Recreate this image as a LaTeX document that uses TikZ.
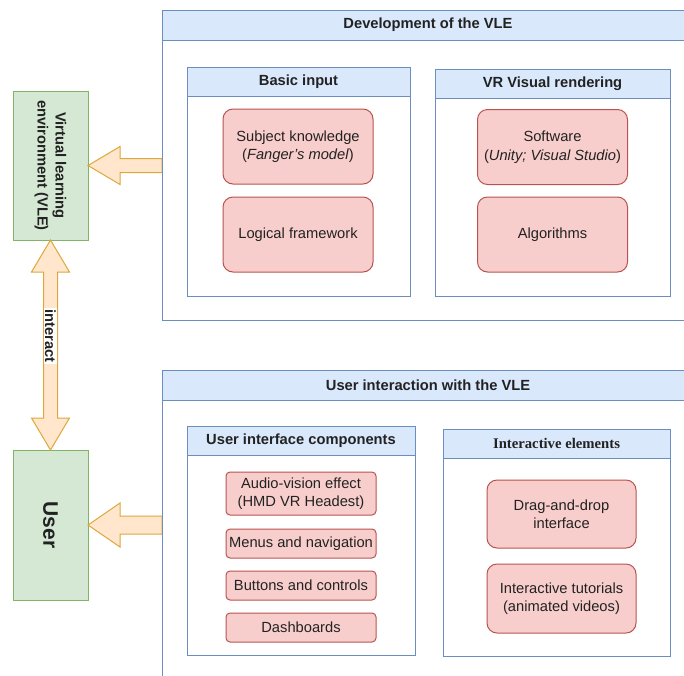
\documentclass[tikz,border=0pt]{standalone}
\usepackage{fontspec}
\setmainfont{Liberation Sans}
\newfontfamily\ieserif{Liberation Serif}
\usetikzlibrary{calc}
\definecolor{hdrfill}{HTML}{DAE8FC}
\definecolor{hdrline}{HTML}{6C8EBF}
\definecolor{redfill}{HTML}{F8CECC}
\definecolor{redline}{HTML}{B85450}
\definecolor{grnfill}{HTML}{D5E8D4}
\definecolor{grnline}{HTML}{82B366}
\definecolor{orgfill}{HTML}{FFE6CC}
\definecolor{orgline}{HTML}{DCA83C}
\definecolor{txt}{HTML}{222222}
\begin{document}
\begin{tikzpicture}[x=1pt,y=-1pt,
  every node/.style={inner sep=0pt, outer sep=0pt, text=txt, font=\fontsize{14.7}{18.5}\selectfont},
  region/.style={draw=hdrline, line width=1pt, fill=white, anchor=north west},
  header/.style={draw=hdrline, line width=1pt, fill=hdrfill, anchor=north west, font=\fontsize{14.7}{18}\selectfont\bfseries},
  item/.style={draw=redline, fill=redfill, line width=1pt, rounded corners=10pt, align=center, anchor=north west},
  smallitem/.style={item, rounded corners=4pt},
  actor/.style={draw=grnline, fill=grnfill, line width=1pt, anchor=north west},
  flex/.style={draw=orgline, fill=orgfill, line width=1pt, line join=miter},
  sidetext/.style={rotate=-90, align=center, font=\fontsize{14.7}{18}\selectfont\bfseries}
]
\useasboundingbox (0,0) rectangle (684,675);
\clip (0,0) rectangle (684,675);

% actors
\node[actor, minimum width=75, minimum height=149] (vle) at (13,91) {};
\node[sidetext] (vletext) at (vle.center) {Virtual learning\\environment (VLE)};
\node[actor, minimum width=75, minimum height=150] (user) at (13,450) {};
\node[sidetext, font=\fontsize{21}{24}\selectfont\bfseries] (usertext) at (user.center) {User};

% outer regions (bodies, for anchors)
\node[region, minimum width=532, minimum height=310] (devbody) at (162,10) {};
\node[region, minimum width=532, minimum height=330] (uibody) at (162,370) {};

% arrows
\draw[flex] let \p1=(devbody.west), \p2=(vle.east) in
  (\x1,\y2+7) -- (\x2+32,\y2+7) -- (\x2+32,\y2+19) -- (\x2,\y2) -- (\x2+32,\y2-19) -- (\x2+32,\y2-7) -- (\x1,\y2-7) -- cycle;
\draw[flex] let \p1=(uibody.west), \p2=(user.east) in
  (\x1,\y2+9) -- (\x2+32,\y2+9) -- (\x2+32,\y2+22) -- (\x2,\y2) -- (\x2+32,\y2-22) -- (\x2+32,\y2-9) -- (\x1,\y2-9) -- cycle;
\draw[flex] let \p1=(vle.south), \p2=(user.north) in
  (\x1,\y1) -- (\x1+19,\y1-32) -- (\x1+7,\y1-32) -- (\x1+7,\y2+32) -- (\x1+19,\y2+32) -- (\x1,\y2)
  -- (\x1-19,\y2+32) -- (\x1-7,\y2+32) -- (\x1-7,\y1-32) -- (\x1-19,\y1-32) -- cycle;
\node[fill=white, rotate=-90, inner sep=1.5pt, font=\fontsize{14.7}{18}\selectfont\bfseries] (interact)
  at ($(vle.south)!0.457!(user.north)$) {interact};

% redraw region borders over arrow ends
\draw[draw=hdrline, line width=1pt] (devbody.north west) -- (devbody.south west) -- (devbody.south east);
\draw[draw=hdrline, line width=1pt] (uibody.north west) -- (uibody.south west);

% Development of the VLE
\node[header, minimum width=532, minimum height=30] (devhead) at (162,10) {Development of the VLE};

\node[region, minimum width=223, minimum height=229] (basicbody) at (187,67) {};
\node[header, minimum width=223, minimum height=29] (basichead) at (187,67) {Basic input};
\node[item, minimum width=150, minimum height=75] (subj) at (223,109) {Subject knowledge\\(\textit{Fanger's model})};
\node[item, minimum width=150, minimum height=75] (logic) at (223,197) {Logical framework};

\node[region, minimum width=235, minimum height=227] (vrbody) at (435,69) {};
\node[header, minimum width=235, minimum height=29] (vrhead) at (435,69) {VR Visual rendering};
\node[item, minimum width=150, minimum height=75] (soft) at (477.5,109.5) {Software\\(\textit{Unity; Visual Studio})};
\node[item, minimum width=150, minimum height=75] (algo) at (477.5,197) {Algorithms};

% User interaction with the VLE
\node[header, minimum width=532, minimum height=30] (uihead) at (162,370) {User interaction with the VLE};

\node[region, minimum width=228, minimum height=229] (uicbody) at (187,426) {};
\node[header, minimum width=228, minimum height=29] (uichead) at (187,426) {User interface components};
\node[smallitem, minimum width=150, minimum height=43] (audio) at (226,472) {Audio-vision effect\\(HMD VR Headest)};
\node[smallitem, minimum width=150, minimum height=29] (menus) at (226,529) {Menus and navigation};
\node[smallitem, minimum width=150, minimum height=29] (buttons) at (226,571) {Buttons and controls};
\node[smallitem, minimum width=150, minimum height=29] (dash) at (226,613) {Dashboards};

\node[region, minimum width=227, minimum height=227] (iebody) at (443,429) {};
\node[header, minimum width=227, minimum height=29, font=\fontsize{14.7}{18}\ieserif\bfseries] (iehead) at (443,429) {Interactive elements};
\node[item, minimum width=149, minimum height=68] (drag) at (487,480) {Drag-and-drop\\interface};
\node[item, minimum width=149, minimum height=69] (tut) at (487,564) {Interactive tutorials\\(animated videos)};
\end{tikzpicture}
\end{document}
